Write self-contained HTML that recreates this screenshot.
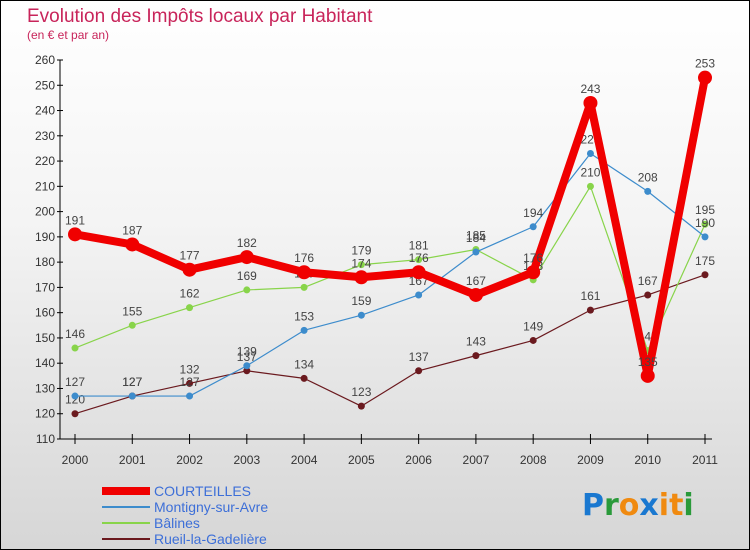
<!DOCTYPE html>
<html><head><meta charset="utf-8"><style>
body{margin:0;width:750px;height:550px;overflow:hidden;font-family:"Liberation Sans",sans-serif}
#wrap{position:absolute;left:0;top:0;width:748px;height:548px;border:1px solid #000;background:linear-gradient(#ffffff,#f4f4f4 40%,#d6d6d6)}
svg{position:absolute;left:0;top:0}
</style></head><body>
<div id="wrap"></div>
<svg id="c" width="750" height="550">
<text x="27" y="22" font-size="19" fill="#c8245a">Evolution des Impôts locaux par Habitant</text>
<text x="27" y="39" font-size="12" fill="#c8245a">(en € et par an)</text>
<g font-size="30" font-weight="bold" font-family="'DejaVu Sans',sans-serif">
<text x="582" y="515"><tspan fill="#1a78d0">P</tspan><tspan fill="#2a9a3a">r</tspan><tspan fill="#f08a10">o</tspan><tspan fill="#1a78d0">x</tspan><tspan fill="#f08a10">i</tspan><tspan fill="#f08a10">t</tspan><tspan fill="#2a9a3a">i</tspan></text></g>
</svg>
<script>
const years=[2000,2001,2002,2003,2004,2005,2006,2007,2008,2009,2010,2011];
const yTicks=[110,120,130,140,150,160,170,180,190,200,210,220,230,240,250,260];
const courteilles=[191,187,177,182,176,174,176,167,176,243,135,253];
const montigny=[127,127,127,139,153,159,167,184,194,223,208,190];
const balines=[146,155,162,169,170,179,181,185,173,210,145,195];
const rueil=[120,127,132,137,134,123,137,143,149,161,167,175];
const NS='http://www.w3.org/2000/svg';
const svg=document.getElementById('c');
const X=i=>75+i*(630/11);
const Y=v=>439-(v-110)*(379/150);
function mk(t,a,p){const e=document.createElementNS(NS,t);for(const k in a)e.setAttribute(k,a[k]);(p||svg).appendChild(e);return e;}
const ax=mk('g',{});


mk('line',{x1:60,y1:60,x2:60,y2:439,stroke:'#000'},ax);
mk('line',{x1:60,y1:439,x2:712,y2:439,stroke:'#000'},ax);
yTicks.forEach(t=>{mk('line',{x1:57,x2:63,y1:Y(t),y2:Y(t),stroke:'#000'},ax);
const l=mk('text',{x:55,y:Y(t)+4,'font-size':12,fill:'#333','text-anchor':'end'},ax);l.textContent=t;

});
years.forEach((yv,i)=>{mk('line',{x1:X(i),x2:X(i),y1:434,y2:444,stroke:'#000'},ax);
const l=mk('text',{x:X(i),y:464,'font-size':12,fill:'#333','text-anchor':'middle'},ax);l.textContent=yv;

});
function series(d,col,w,r,name){const g=mk('g',{});


mk('polyline',{points:d.map((v,i)=>X(i)+','+Y(v)).join(' '),fill:'none',stroke:col,'stroke-width':w,'stroke-linejoin':'round'},g);
d.forEach((v,i)=>{const c=mk('circle',{cx:X(i),cy:Y(v),r:r,fill:col},g);


const t=mk('text',{x:X(i),y:Y(v)-10,'font-size':12,fill:'#444','text-anchor':'middle'},g);t.textContent=v;

});}
series(rueil,'#6b1a1f',1.2,3.5,'series-rueil');
series(balines,'#88d44a',1.2,3.5,'series-balines');
series(montigny,'#3d8ccc',1.2,3.5,'series-montigny');
series(courteilles,'#f00000',8,7,'series-courteilles');
const leg=[['COURTEILLES','#f00000',8],['Montigny-sur-Avre','#3d8ccc',2],['Bâlines','#88d44a',2],['Rueil-la-Gadelière','#6b1a1f',2]];
leg.forEach((e,i)=>{const g=mk('g',{});


const y=491+i*16;mk('line',{x1:102,x2:150,y1:y,y2:y,stroke:e[1],'stroke-width':e[2]},g);
const t=mk('text',{x:154,y:y+5,'font-size':14,fill:'#3d6fd8'},g);t.textContent=e[0];});
</script>
</body></html>
